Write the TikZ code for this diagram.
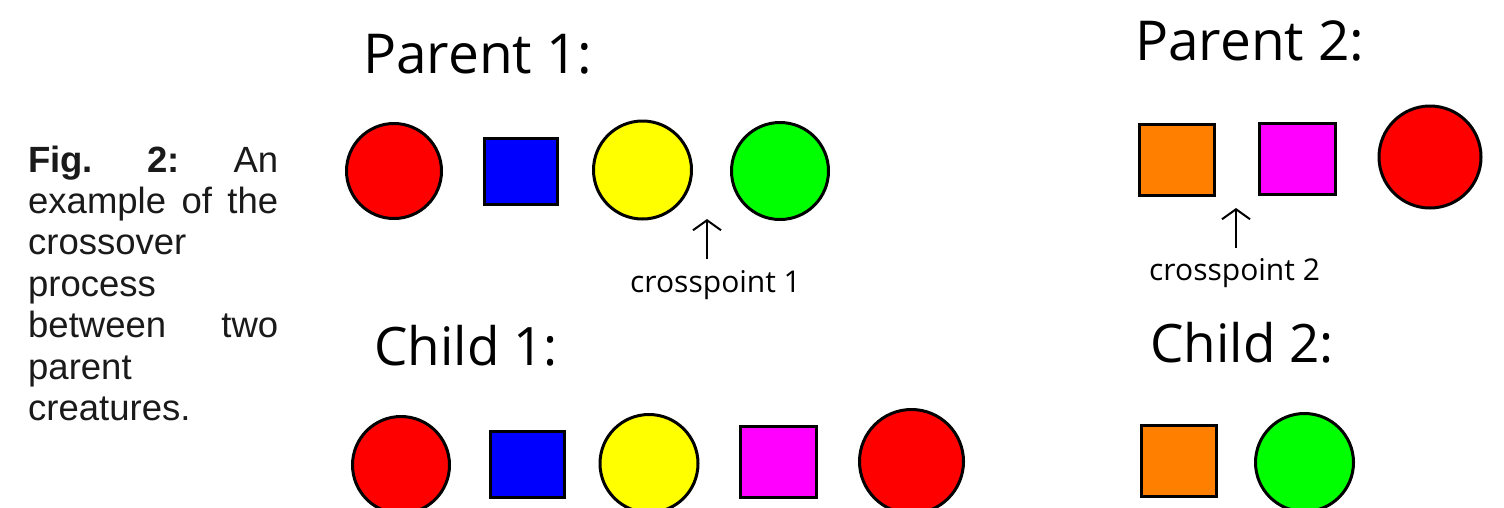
\documentclass[tikz,border=0pt]{standalone}
\usepackage{fontspec}
\setmainfont{Liberation Sans}
\newfontfamily\comicfont{Open Sans}
\usetikzlibrary{arrows.meta}
\definecolor{cred}{HTML}{FF0000}
\definecolor{cblue}{HTML}{0000FF}
\definecolor{cyellow}{HTML}{FFFF00}
\definecolor{cgreen}{HTML}{00FF00}
\definecolor{cmagenta}{HTML}{FF00FF}
\definecolor{corange}{HTML}{FF8000}
\definecolor{captext}{HTML}{1A1A1A}
\begin{document}
\begin{tikzpicture}[x=1pt,y=-1pt,
  shp/.style={draw=black,line width=3pt,inner sep=0pt},
  circ/.style={shp,circle},
  sq/.style={shp,rectangle},
  bigtitle/.style={font=\comicfont\fontsize{55}{60}\selectfont,inner sep=0pt,anchor=base west},
  cptext/.style={font=\comicfont\fontsize{30}{34}\selectfont,inner sep=0pt,anchor=base west},
  arr/.style={line width=2pt,-{Straight Barb[length=10pt,width=28pt]}}]
\clip (0,0) rectangle (1504,507);
\fill[white] (0,0) rectangle (1504,507);

% caption
\node[anchor=base west,inner sep=0pt,text=captext] (cap) at (28,172)
 {\parbox[t]{250pt}{\fontsize{36.5}{41.4}\selectfont
  \textbf{Fig.}\hfill\textbf{2:}\hfill An\\
  example\hfill of\hfill the\\
  crossover\\
  process\\
  between\hfill two\\
  parent\\
  creatures.}};

% titles
\node[bigtitle] (tp1) at (363,73) {Parent 1:};
\node[bigtitle] (tp2) at (1135,60) {Parent 2:};
\node[bigtitle,font=\comicfont\fontsize{53}{58}\selectfont] (tc1) at (374,365) {Child 1:};
\node[bigtitle,font=\comicfont\fontsize{53}{58}\selectfont] (tc2) at (1150,362) {Child 2:};

% parent 1
\node[circ,fill=cred,minimum size=95pt] (p1a) at (394,171) {};
\node[sq,fill=cblue,minimum width=73pt,minimum height=66pt] (p1b) at (521,171.5) {};
\node[circ,fill=cyellow,minimum size=98pt] (p1c) at (642.5,170) {};
\node[circ,fill=cgreen,minimum size=97pt] (p1d) at (780,171) {};
\node[cptext] (cp1) at (630,292) {crosspoint 1};
\coordinate (cp1tail) at (707,259);
\coordinate (cp1tip) at (707,219);
\draw[arr] (cp1tail) -- (cp1tip);

% parent 2
\node[sq,fill=corange,minimum width=75pt,minimum height=71pt] (p2a) at (1177,160) {};
\node[sq,fill=cmagenta,minimum width=76pt,minimum height=71pt] (p2b) at (1297.5,159) {};
\node[circ,fill=cred,minimum size=102pt] (p2c) at (1430,157) {};
\node[cptext] (cp2) at (1149,280) {crosspoint 2};
\coordinate (cp2tail) at (1236,248);
\coordinate (cp2tip) at (1236,208);
\draw[arr] (cp2tail) -- (cp2tip);

% child 1
\node[circ,fill=cred,minimum size=97pt] (c1a) at (401,465) {};
\node[sq,fill=cblue,minimum width=74pt,minimum height=66pt] (c1b) at (527.5,464.5) {};
\node[circ,fill=cyellow,minimum size=98pt] (c1c) at (649,463.5) {};
\node[sq,fill=cmagenta,minimum width=76pt,minimum height=71pt] (c1d) at (778.5,462) {};
\node[circ,fill=cred,minimum size=104pt] (c1e) at (911.5,461.5) {};

% child 2
\node[sq,fill=corange,minimum width=75pt,minimum height=71pt] (c2a) at (1179,461) {};
\node[circ,fill=cgreen,minimum size=98pt] (c2b) at (1304.5,462.5) {};
\end{tikzpicture}
\end{document}
